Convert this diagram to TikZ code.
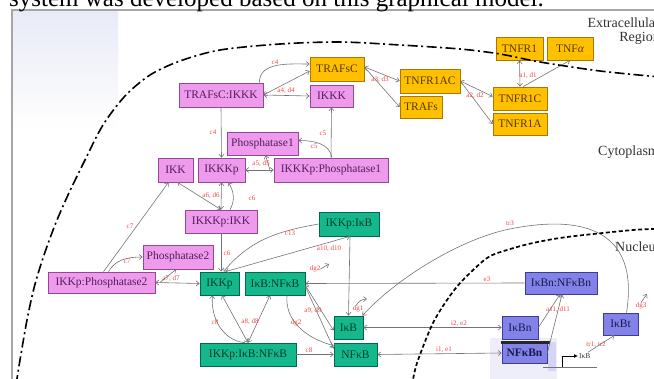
\documentclass[tikz,border=0pt]{standalone}
\usepackage{fontspec}
\setmainfont{Liberation Serif}
\usetikzlibrary{arrows.meta,positioning}
\definecolor{orfill}{RGB}{255,192,0}\definecolor{ordraw}{RGB}{170,120,0}\definecolor{ortext}{RGB}{90,55,0}
\definecolor{pkfill}{RGB}{238,155,238}\definecolor{pkdraw}{RGB}{150,70,150}\definecolor{pktext}{RGB}{85,30,85}
\definecolor{gnfill}{RGB}{20,184,140}\definecolor{gndraw}{RGB}{0,105,75}\definecolor{gntext}{RGB}{0,60,40}
\definecolor{blfill}{RGB}{130,130,232}\definecolor{bldraw}{RGB}{60,60,150}\definecolor{bltext}{RGB}{25,25,75}
\definecolor{lncol}{RGB}{115,115,115}\definecolor{lbred}{RGB}{235,70,70}
\definecolor{bgtop}{RGB}{232,234,247}\definecolor{glowc}{RGB}{238,238,251}\definecolor{stripc}{RGB}{212,212,246}

\begin{document}
\begin{tikzpicture}[x=1pt,y=-1pt,>={Straight Barb[length=3pt,width=5pt]},
 rbox/.style={draw,line width=0.7pt,inner sep=0pt,minimum height=23pt,font=\fontsize{11.5}{12}\selectfont},
 orbox/.style={rbox,fill=orfill,draw=ordraw,text=ortext},
 pkbox/.style={rbox,fill=pkfill,draw=pkdraw,text=pktext},
 gnbox/.style={rbox,fill=gnfill,draw=gndraw,text=gntext},
 blbox/.style={rbox,fill=blfill,draw=bldraw,text=bltext},
 ln/.style={draw=lncol,line width=0.6pt},
 lb/.style={font=\fontsize{7}{7}\selectfont,text=lbred,inner sep=0pt},
 region/.style={font=\fontsize{14}{14}\selectfont,text=black!80,inner sep=0pt}]
\useasboundingbox (0,0) rectangle (654,379);
\clip (0,0) rectangle (654,379);
\shade[top color=bgtop,bottom color=white] (13,11) rectangle (118,130);
\fill[glowc] (490,338) rectangle (557,379);\fill[stripc] (548,342) rectangle (556,371);
\draw[black!35,line width=1.2pt] (12,385) -- (12,10) -- (660,10);
\node[anchor=base west,inner sep=0pt,font=\fontsize{25}{25}\selectfont] (cap) at (9,6.5) {system was developed based on this graphical model.};
\node[region,align=right,anchor=north east] (extra) at (660,18) {Extracellular\\Region};
\node[region,anchor=base west] (cyto) at (598,156) {Cytoplasm};
\node[region,anchor=base west] (nucl) at (615,252) {Nucleus};

\node[orbox,minimum width=47pt] (tnfr1) at (519.5,48.5) {TNFR1};
\node[orbox,minimum width=46pt] (tnfa) at (570,48.5) {TNF\textit{α}};
\node[orbox,minimum width=54pt,minimum height=24pt] (trafsc) at (337,69) {TRAFsC};
\node[orbox,minimum width=60pt,minimum height=24pt] (tnfr1ac) at (430,81) {TNFR1AC};
\node[orbox,minimum width=42pt,minimum height=22pt] (trafs) at (421,107) {TRAFs};
\node[orbox,minimum width=54pt] (tnfr1c) at (520,98.5) {TNFR1C};
\node[orbox,minimum width=54pt,minimum height=22pt] (tnfr1a) at (520,124) {TNFR1A};

\node[pkbox,minimum width=84pt,minimum height=24pt] (trafsckkk) at (221,95) {TRAFsC:IKKK};
\node[pkbox,minimum width=43pt,minimum height=22pt] (ikkk) at (331.5,96) {IKKK};
\node[pkbox,minimum width=71pt] (phos1) at (262.5,143.5) {Phosphatase1};
\node[pkbox,minimum width=35pt,minimum height=24pt] (ikk) at (175.5,170) {IKK};
\node[pkbox,minimum width=47pt,minimum height=24pt] (ikkkp) at (221.5,170) {IKKKp};
\node[pkbox,minimum width=114pt,minimum height=24pt] (ikkkpphos1) at (331,170) {IKKKp:Phosphatase1};
\node[pkbox,minimum width=72pt] (ikkkpikk) at (221,221.5) {IKKKp:IKK};
\node[pkbox,minimum width=70pt,minimum height=24pt] (phos2) at (178,257) {Phosphatase2};
\node[pkbox,minimum width=107pt,minimum height=21pt] (ikkpphos2) at (101.5,282.5) {IKKp:Phosphatase2};

\node[gnbox,minimum width=60pt,minimum height=24pt] (ikkpikb) at (349,224) {IKKp:IκB};
\node[gnbox,minimum width=39pt] (ikkp) at (219.5,283.5) {IKKp};
\node[gnbox,minimum width=60pt] (ikbnfkb) at (275,283.5) {IκB:NFκB};
\node[gnbox,minimum width=96pt] (ikkpikbnfkb) at (248,354.5) {IKKp:IκB:NFκB};
\node[gnbox,minimum width=29pt] (ikb) at (348.5,327.5) {IκB};
\node[gnbox,minimum width=43pt] (nfkb) at (355.5,354.5) {NFκB};

\node[blbox,minimum width=72pt,minimum height=22pt] (ikbnnfkbn) at (561,283) {IκBn:NFκBn};
\node[blbox,minimum width=36pt] (ikbn) at (520,327.5) {IκBn};
\node[blbox,minimum width=45pt,minimum height=20pt,font=\fontsize{11.5}{12}\selectfont\bfseries] (nfkbn) at (524.5,353) {NFκBn};
\draw[black!85,line width=2.5pt] ([xshift=-1pt]nfkbn.north west) -- ([xshift=3pt]nfkbn.north east);
\node[blbox,minimum width=35pt,minimum height=22pt] (ikbt) at (620.5,324) {IκBt};

\coordinate (gl) at (543,367);\coordinate (gr) at (597,367);\coordinate (gt) at (562,367);
\draw[black!55,line width=0.8pt] (gl) -- (gr);
\node[font=\fontsize{7.5}{8}\selectfont,inner sep=1pt,anchor=west,text=black!80] (gene) at (578,356) {IκB};
\draw[line width=0.8pt,-{Latex[length=4pt,width=4pt]}] (gt) |- (gene.west);

\draw[ln,->] ([xshift=-4pt]trafsckkk.north east) to[out=90,in=180] ([yshift=5pt]trafsc.west);
\draw[ln,<->] (trafsckkk.east) -- ([yshift=-2pt]trafsc.west);\draw[ln,<->] (trafsckkk.east) -- (ikkk.west);
\draw[ln,<->] ([yshift=2pt]trafsc.east) -- (tnfr1ac.west);\draw[ln,->] ([yshift=2pt]trafsc.east) -- (trafs.west);
\draw[ln,<->] (tnfr1ac.east) -- ([yshift=2pt]tnfr1c.west);\draw[ln,->] (tnfr1ac.east) -- (tnfr1a.west);
\draw[ln,<->] (tnfr1.south) -- (tnfr1c.north);\draw[ln,->] ([xshift=3pt]tnfr1c.north) -- (tnfa.south);
\draw[ln,->] (trafsckkk.south) -- (ikkkp.north);
\draw[ln,->] (ikkkpphos1.north) -- (ikkk.south);
\draw[ln,->] ([xshift=1pt]ikkkpphos1.north) to[out=100,in=0] ([yshift=3pt]phos1.east);
\draw[ln,<->] (ikkkp.east) -- (ikkkpphos1.west);
\coordinate (m5) at (270,170);\draw[ln,->] (m5) -- ([xshift=3pt]phos1.south);
\draw[ln,<->] ([xshift=2pt]ikk.south) -- (ikkkpikk.north);\draw[ln,<->] (ikkkp.south) -- (ikkkpikk.north);
\draw[ln,->] ([xshift=9pt]ikkkpikk.north) to[out=60,in=-60] ([xshift=7pt]ikkkp.south);
\draw[ln,->] ([xshift=2pt]ikkpphos2.north) -- ([xshift=-7pt]ikk.south);
\draw[ln,->] ([xshift=7pt]ikkpphos2.north) to[out=60,in=180] (phos2.west);
\draw[ln,<->] (ikkpphos2.east) -- (ikkp.west);
\coordinate (m7) at (160,282.5);\draw[ln,->] (m7) -- ([xshift=-2pt]phos2.south);
\draw[ln,->] (ikkkpikk.south) -- ([xshift=1.5pt]ikkp.north);
\draw[ln,->] (ikkpikb.west) to[out=190,in=50] ([xshift=4pt]ikkp.north);
\draw[ln,<->] ([xshift=6pt]ikkp.north) -- ([xshift=1pt]ikkpikb.south);
\draw[ln,->] ([xshift=1pt]ikkpikb.south) -- (ikb.north);
\draw[ln,->] (ikbnnfkbn.west) -- (ikbnfkb.east);
\draw[ln,<->] ([yshift=-2pt]ikbnfkb.east) -- ([yshift=-3pt]ikb.west);
\draw[ln,->] ([yshift=-3pt]ikbnfkb.east) -- ([yshift=-6pt]nfkb.north west);
\draw[ln,->] ([xshift=12pt]ikbnfkb.south) to[out=-95,in=165] ([yshift=-3pt]nfkb.north west);
\draw[ln,<->] ([xshift=2.5pt]ikkp.south) -- (ikkpikbnfkb.north);\draw[ln,<->] ([xshift=-5pt]ikbnfkb.south) -- (ikkpikbnfkb.north);
\draw[ln,->] ([xshift=-3pt]ikkpikbnfkb.north) to[out=175,in=-95] ([xshift=-7pt]ikkp.south);
\draw[ln,->] (ikkpikbnfkb.east) -- (nfkb.west);
\draw[ln,<->] (ikb.east) -- (ikbn.west);\draw[ln,<->] (nfkb.east) -- (nfkbn.west);
\draw[ln,->] (ikbn.east) -- ([xshift=-1pt]ikbnnfkbn.south);\draw[ln,->] (nfkbn.east) -- ([xshift=1pt]ikbnnfkbn.south);
\coordinate (tr3top) at (505,230);
\draw[ln,->] ([xshift=6pt]ikbt.north) .. controls (642,215) and (560,218) .. (tr3top) .. controls (455,242) and (395,280) .. ([xshift=-1pt]ikb.north east);
\draw[ln,->] ([xshift=3pt]gene.north) -- ([xshift=-6pt]ikbt.south);

\node[lb] (ldg2) at (315,269) {dg2};\coordinate (dg2e) at (329,264);\draw[ln,->] (ldg2.east) -- (dg2e);
\node[lb] (ldg1) at (358,309) {dg1};\coordinate (dg1e) at (367,299);\draw[ln,->] ([xshift=-2pt]ldg1.north) to[bend left=30] (dg1e);
\node[lb] (ldg3) at (641,306) {dg3};\coordinate (dg3e) at (647,294);\draw[ln,->] (ldg3.north) -- (dg3e);

\node[lb] (lc4a) at (275,62) {c4};\node[lb] (la4) at (286,91) {a4, d4};\node[lb] (la3) at (380,80) {a3, d3};
\node[lb] (la2) at (475,96) {a2, d2};\node[lb] (la1) at (528,76) {a1, d1};
\node[lb] (lc4b) at (213,132) {c4};\node[lb] (lc5a) at (323,133) {c5};\node[lb] (lc5b) at (314,146) {c5};
\node[lb] (la5) at (261,164) {a5, d5};\node[lb] (la6) at (211,196) {a6, d6};\node[lb] (lc6a) at (252,198) {c6};
\node[lb] (lc7a) at (130,226) {c7};\node[lb] (lc7b) at (127,261) {c7};\node[lb] (la7) at (171,279) {a7, d7};
\node[lb] (lc6b) at (227,253) {c6};\node[lb] (lc13) at (290,233) {c13};\node[lb] (la10) at (329,249) {a10, d10};
\node[lb] (la9) at (313,311) {a9, d9};\node[lb] (ldg2b) at (296,323) {dg2};\node[lb] (la8) at (250,322) {a8, d8};
\node[lb] (lc8a) at (215,322) {c8};\node[lb] (lc8b) at (309,350) {c8};\node[lb] (le3) at (487,279) {e3};
\node[lb] (li2) at (459,324) {i2, e2};\node[lb] (li1) at (444,350) {i1, e1};\node[lb] (la11) at (558,310) {a11, d11};
\node[lb] (ltr3) at (510,223) {tr3};\node[lb] (ltr1) at (596,345) {tr1, tr2};

\draw[black,line width=1.6pt,dash pattern=on 10pt off 3.5pt on 2pt off 3.5pt] plot[smooth] coordinates {(16,385) (20,360) (27,320) (34,288) (43,258) (55,225) (68,195) (85,160) (103,125) (125,96) (150,75) (180,61) (220,50) (280,44) (340,42) (400,45) (460,49) (500,54) (540,62) (600,71) (660,77)};
\draw[black,line width=1.7pt,dash pattern=on 4pt off 2.5pt] plot[smooth] coordinates {(412,385) (417,363) (432,325) (447,300) (462,281) (487,258) (507,250) (533,243) (567,237) (633,230) (660,229)};
\end{tikzpicture}
\end{document}
